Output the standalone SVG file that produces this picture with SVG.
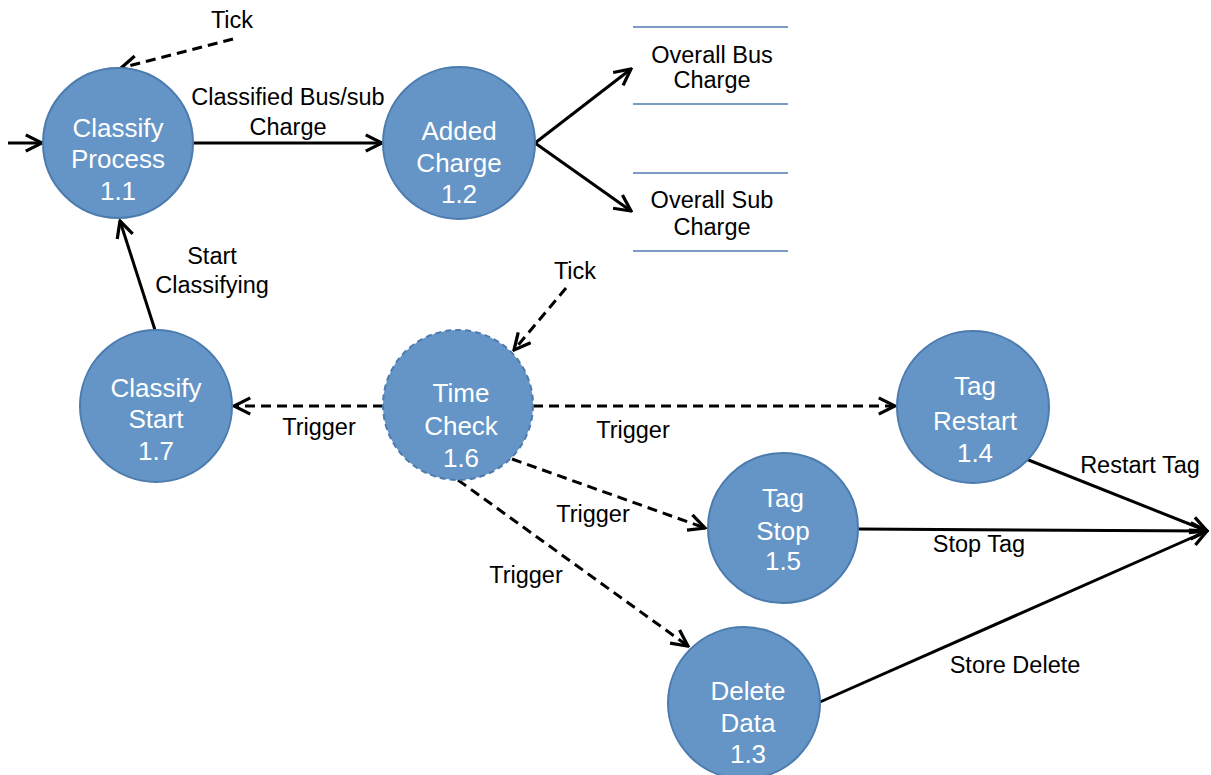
<svg xmlns="http://www.w3.org/2000/svg" width="1211" height="775" viewBox="0 0 1211 775">
<style>
.node{fill:#6495C6;stroke:#4C7BAE;stroke-width:2}
.dash{stroke-dasharray:6 4}
.nt{font-family:"Liberation Sans",Arial,sans-serif;font-size:26px;fill:#fff;text-anchor:middle}
.lb{font-family:"Liberation Sans",Arial,sans-serif;font-size:23.5px;fill:#000;text-anchor:middle}
.ln{stroke:#000;stroke-width:3;fill:none;marker-end:url(#ah)}
.dl{stroke:#000;stroke-width:3;fill:none;stroke-dasharray:10 6;marker-end:url(#ah)}
.store{stroke:#7C9CC4;stroke-width:2}
</style>
<defs>
<marker id="ah" viewBox="0 0 12 12" refX="11" refY="6" markerWidth="6.5" markerHeight="6.5" markerUnits="strokeWidth" orient="auto">
<path d="M1,1 L11,6 L1,11" fill="none" stroke="#000" stroke-width="2"/>
</marker>
</defs>
<g id="connectors">
<line class="ln" x1="8" y1="143" x2="42" y2="143"/>
<line class="dl" x1="233" y1="39" x2="121" y2="68"/>
<line class="ln" x1="193" y1="143" x2="382" y2="143"/>
<line class="ln" x1="535" y1="143" x2="631" y2="69"/>
<line class="ln" x1="535" y1="143" x2="631" y2="211"/>
<line class="ln" x1="155" y1="330" x2="120" y2="221"/>
<line class="dl" x1="566" y1="288" x2="514" y2="350"/>
<line class="dl" x1="383" y1="406" x2="234" y2="406"/>
<line class="dl" x1="533" y1="406" x2="895" y2="406"/>
<line class="dl" x1="512" y1="459" x2="705" y2="528"/>
<line class="dl" x1="458" y1="480" x2="688" y2="646"/>
<line class="ln" x1="1026" y1="459" x2="1207" y2="531"/>
<line class="ln" x1="858" y1="529" x2="1207" y2="531"/>
<line class="ln" x1="820" y1="702" x2="1207" y2="531"/>
</g>
<g id="labels">
<text class="lb" x="232" y="28">Tick</text>
<text class="lb" x="288" y="105">Classified Bus/sub</text>
<text class="lb" x="288" y="135">Charge</text>
<text class="lb" x="212" y="264">Start</text>
<text class="lb" x="212" y="293">Classifying</text>
<text class="lb" x="575" y="279">Tick</text>
<text class="lb" x="319" y="435">Trigger</text>
<text class="lb" x="633" y="438">Trigger</text>
<text class="lb" x="593" y="522">Trigger</text>
<text class="lb" x="526" y="583">Trigger</text>
<text class="lb" x="1140" y="473">Restart Tag</text>
<text class="lb" x="979" y="552">Stop Tag</text>
<text class="lb" x="1015" y="673">Store Delete</text>
</g>
<g id="store-bus">
<line class="store" x1="633" y1="27" x2="788" y2="27"/>
<line class="store" x1="633" y1="104" x2="788" y2="104"/>
<text class="lb" x="712" y="63">Overall Bus</text>
<text class="lb" x="712" y="88">Charge</text>
</g>
<g id="store-sub">
<line class="store" x1="633" y1="173" x2="788" y2="173"/>
<line class="store" x1="633" y1="251" x2="788" y2="251"/>
<text class="lb" x="712" y="208">Overall Sub</text>
<text class="lb" x="712" y="235">Charge</text>
</g>
<g id="n11">
<circle class="node" cx="118" cy="143" r="75"/>
<text class="nt" x="118" y="137">Classify</text>
<text class="nt" x="118" y="168">Process</text>
<text class="nt" x="118" y="200">1.1</text>
</g>
<g id="n12">
<circle class="node" cx="459" cy="143" r="76"/>
<text class="nt" x="459" y="140">Added</text>
<text class="nt" x="459" y="172">Charge</text>
<text class="nt" x="459" y="203">1.2</text>
</g>
<g id="n17">
<circle class="node" cx="156" cy="406" r="76"/>
<text class="nt" x="156" y="397">Classify</text>
<text class="nt" x="156" y="428">Start</text>
<text class="nt" x="156" y="460">1.7</text>
</g>
<g id="n16">
<circle class="node dash" cx="458" cy="405" r="75"/>
<text class="nt" x="461" y="402">Time</text>
<text class="nt" x="461" y="435">Check</text>
<text class="nt" x="461" y="467">1.6</text>
</g>
<g id="n14">
<circle class="node" cx="973" cy="407" r="76"/>
<text class="nt" x="975" y="395">Tag</text>
<text class="nt" x="975" y="430">Restart</text>
<text class="nt" x="975" y="462">1.4</text>
</g>
<g id="n15">
<circle class="node" cx="783" cy="528" r="75"/>
<text class="nt" x="783" y="507">Tag</text>
<text class="nt" x="783" y="540">Stop</text>
<text class="nt" x="783" y="570">1.5</text>
</g>
<g id="n13">
<circle class="node" cx="744" cy="703" r="76"/>
<text class="nt" x="748" y="700">Delete</text>
<text class="nt" x="748" y="732">Data</text>
<text class="nt" x="748" y="763">1.3</text>
</g>
</svg>
